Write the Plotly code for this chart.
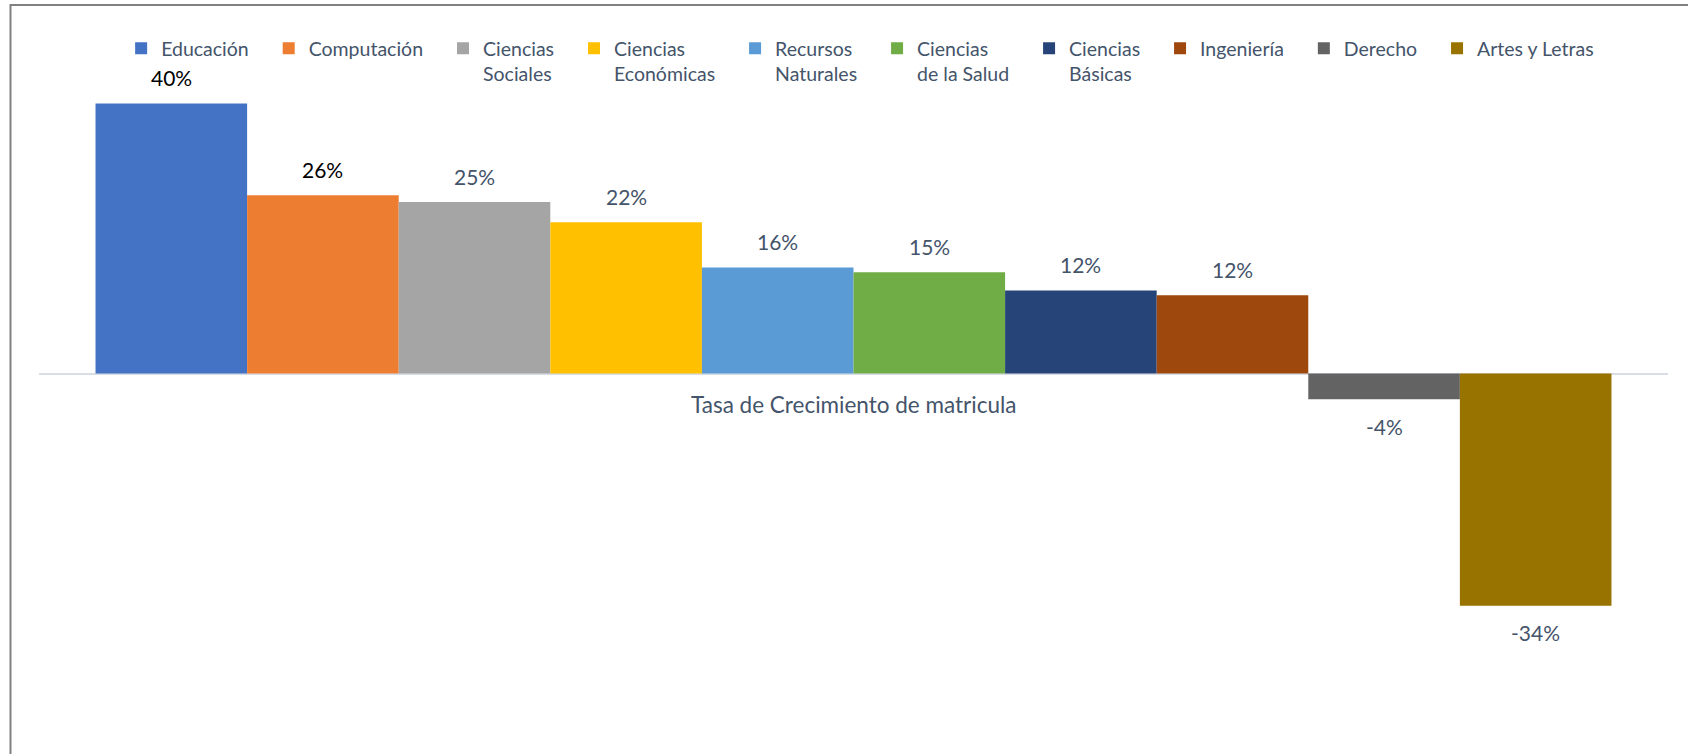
import plotly.graph_objects as go

# Enrollment growth rate by field of study
category = "Tasa de Crecimiento de matricula"
series_names = [
    "Educación",
    "Computación",
    "Ciencias<br>Sociales",
    "Ciencias<br>Económicas",
    "Recursos<br>Naturales",
    "Ciencias<br>de la Salud",
    "Ciencias<br>Básicas",
    "Ingeniería",
    "Derecho",
    "Artes y Letras",
]
growth = [0.40, 0.264, 0.254, 0.224, 0.157, 0.150, 0.123, 0.116, -0.038, -0.344]
colors = [
    "#4472C4", "#ED7D31", "#A5A5A5", "#FFC000", "#5B9BD5",
    "#70AD47", "#264478", "#9E480E", "#636363", "#997300",
]
label_colors = ["#000000", "#000000"] + ["#44546A"] * 8

W, H = 1688, 754
FONT = "Lato, 'Open Sans', sans-serif"
BARGAP = 0.0694
PAD = "\u00a0" * 3  # extra room after each legend entry


def padded(name):
    return name.replace("<br>", PAD + "<br>") + PAD


fig = go.Figure()
for name, val, col in zip(series_names, growth, colors):
    fig.add_trace(go.Bar(
        name=padded(name),
        x=[category],
        y=[val],
        marker=dict(color=col, line=dict(width=0)),
        hoverinfo="y",
    ))

# value labels above / below each bar, positioned on the category axis
n = len(growth)
slot = (1 - BARGAP) / n
annotations = []
for i, (val, lc) in enumerate(zip(growth, label_colors)):
    annotations.append(dict(
        x=(i - (n - 1) / 2) * slot,
        y=val,
        xref="x", yref="y",
        text=f"{val:.0%}",
        showarrow=False,
        yanchor="middle",
        yshift=26 if val >= 0 else -27,
        font=dict(family=FONT, size=21, color=lc),
    ))

# category name just under the zero line
annotations.append(dict(
    x=0, y=0, xref="x", yref="y",
    text=category,
    showarrow=False,
    yanchor="middle",
    yshift=-31,
    font=dict(family=FONT, size=22.5, color="#44546A"),
))

fig.update_layout(
    width=W, height=H,
    margin=dict(l=0, r=0, t=0, b=0),
    paper_bgcolor="white",
    plot_bgcolor="white",
    barmode="group",
    bargap=BARGAP,
    bargroupgap=0,
    showlegend=True,
    legend=dict(
        orientation="h",
        x=0.514, xanchor="center",
        y=1 - 29 / H, yanchor="top",
        valign="top",
        font=dict(family=FONT, size=19.5, color="#44546A"),
        itemwidth=30,
        bgcolor="rgba(0,0,0,0)",
        traceorder="normal",
    ),
    xaxis=dict(
        domain=[39 / W, 1668 / W],
        range=[-0.5, 0.5],
        showticklabels=False,
        showgrid=False,
        showline=False,
        zeroline=False,
        ticks="",
    ),
    yaxis=dict(
        domain=[(H - 711) / H, (H - 36) / H],
        range=[-0.5, 0.5],
        showticklabels=False,
        showgrid=False,
        zeroline=True,
        zerolinecolor="#D9DEE6",
        zerolinewidth=2,
        showline=False,
        ticks="",
    ),
    annotations=annotations,
    shapes=[dict(
        type="rect", xref="paper", yref="paper",
        x0=10.5 / W, x1=1.02, y0=-0.02, y1=1 - 5 / H,
        line=dict(color="#808080", width=2),
        fillcolor="rgba(0,0,0,0)",
        layer="above",
    )],
)

fig.write_html("out.html")
